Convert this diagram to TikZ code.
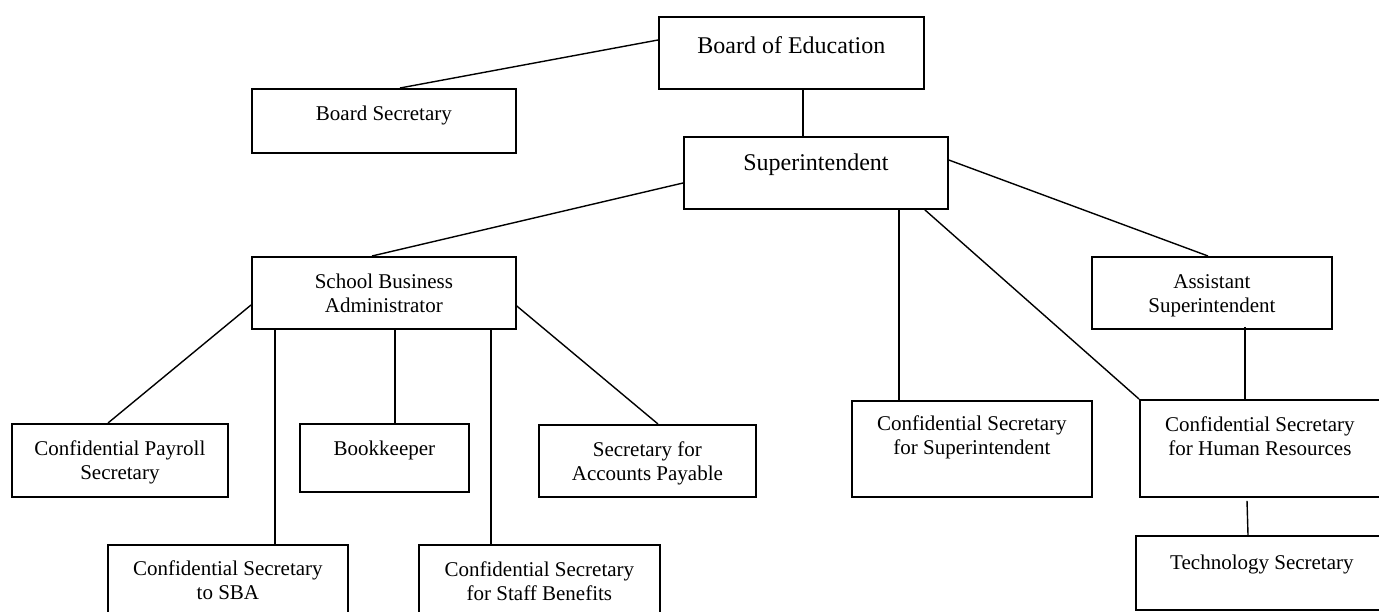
\documentclass[tikz,border=0pt]{standalone}
\usepackage{fontspec}
\setmainfont{Liberation Serif}
\usetikzlibrary{calc}

% Fixed-size box content: width, height, first baseline (all in px units of 0.5pt), text
\newcommand{\boxtext}[4]{\parbox[t][\dimexpr #2pt/2\relax][t]{\dimexpr #1pt/2\relax}{\centering\vspace*{\dimexpr #3pt/2-0.7\baselineskip\relax}\strut #4}}

\tikzset{
  orgbox/.style={draw, line width=0.9pt, inner sep=0pt, anchor=north west,
    font=\fontsize{10.5}{12}\selectfont},
  headbox/.style={orgbox, font=\fontsize{12}{14}\selectfont},
  link/.style={line width=0.7pt},
}

\begin{document}
\begin{tikzpicture}[x=0.5pt, y=-0.5pt]
  \fill[white] (0,0) rectangle (1379,611);
  \useasboundingbox (0,0) rectangle (1379,611);

  % top level
  \node[headbox] (boe)  at (658,16)  {\boxtext{265}{72}{37}{Board of Education}};
  \node[orgbox]  (bsec) at (251,88)  {\boxtext{264}{64}{32}{Board Secretary}};
  \node[headbox] (sup)  at (683,136) {\boxtext{264}{72}{34}{Superintendent}};

  % second level
  \node[orgbox] (sba)  at (251,256)  {\boxtext{264}{72}{32}{School Business\\Administrator}};
  \node[orgbox] (asst) at (1091,256) {\boxtext{240}{72}{32}{Assistant\\Superintendent}};

  % business office staff
  \node[orgbox] (pay)    at (11,423)  {\boxtext{216}{73}{32}{Confidential Payroll\\Secretary}};
  \node[orgbox] (book)   at (299,423) {\boxtext{169}{68}{32}{Bookkeeper}};
  \node[orgbox] (ap)     at (538,424) {\boxtext{217}{72}{32}{Secretary for\\Accounts Payable}};
  \node[orgbox] (csba)   at (107,544) {\boxtext{240}{72}{31}{Confidential Secretary\\to SBA}};
  \node[orgbox] (cstaff) at (418,544) {\boxtext{241}{72}{32}{Confidential Secretary\\for Staff Benefits}};

  % central office staff
  \node[orgbox] (css)  at (851,400)  {\boxtext{240}{96}{30}{Confidential Secretary\\for Superintendent}};
  \node[orgbox] (hr)   at (1139,399) {\boxtext{240}{97}{32}{Confidential Secretary\\for Human Resources}};
  \node[orgbox] (tech) at (1135,535) {\boxtext{252}{74}{34}{Technology Secretary}};

  % reporting lines
  \draw[link] ($(boe.north west)+(0,24)$) -- ($(bsec.north west)+(149,0)$);
  \draw[link] ($(boe.south west)+(145,0)$) -- ($(sup.north west)+(120,0)$);
  \draw[link] ($(sup.north west)+(0,47)$) -- ($(sba.north west)+(121,0)$);
  \draw[link] ($(sup.north east)+(0,24)$) -- ($(asst.north west)+(117,0)$);
  \draw[link] ($(sup.south west)+(216,0)$) -- ($(css.north west)+(48,0)$);
  \draw[link] ($(sup.south east)+(-24,0)$) -- (hr.north west);
  \draw[link] ($(asst.south west)+(154,-3)$) -- ($(hr.north west)+(106,0)$);
  \draw[link] ($(hr.south west)+(108,3)$) -- ($(tech.north west)+(113,0)$);

  \draw[link] ($(sba.north west)+(0,49)$) -- ($(pay.north west)+(97,0)$);
  \draw[link] ($(sba.south west)+(24,0)$) -- ($(csba.north west)+(168,0)$);
  \draw[link] ($(sba.south west)+(144,0)$) -- ($(book.north west)+(96,0)$);
  \draw[link] ($(sba.south west)+(240,0)$) -- ($(cstaff.north west)+(73,0)$);
  \draw[link] ($(sba.north east)+(0,50)$) -- ($(ap.north west)+(120,0)$);
\end{tikzpicture}
\end{document}
